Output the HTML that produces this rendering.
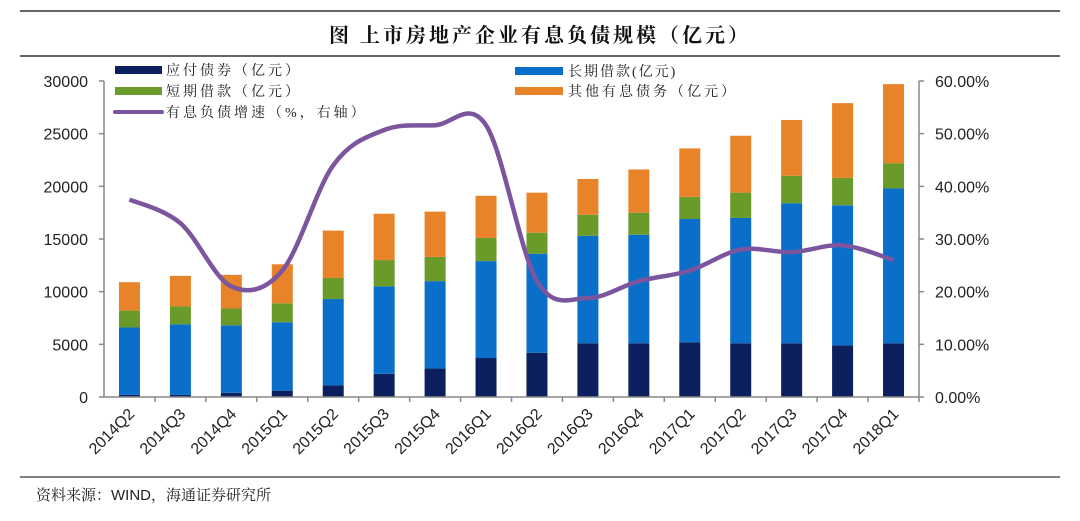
<!DOCTYPE html>
<html><head><meta charset="utf-8">
<style>
body{margin:0;background:#fff;width:1080px;height:516px;overflow:hidden;font-family:"Liberation Sans","Noto Serif CJK SC",sans-serif;}
svg text{font-family:"Liberation Sans","Noto Serif CJK SC",sans-serif;}
.cjk{font-family:"Liberation Serif","Noto Serif CJK SC",serif;}
</style></head>
<body>
<svg id="chart" width="1080" height="516" xmlns="http://www.w3.org/2000/svg">
<line x1="20" y1="11" x2="1060" y2="11" stroke="#333" stroke-width="1.5"/>
<line x1="20" y1="56" x2="1060" y2="56" stroke="#333" stroke-width="1.5"/>
<text class="cjk" x="540" y="42" text-anchor="middle" font-size="20" font-weight="bold" fill="#111" letter-spacing="3">图  上市房地产企业有息负债规模（亿元）</text>
<g id="legend">
<rect x="115" y="66" width="47" height="8" fill="#0c1f5e"/>
<text class="cjk" x="166" y="75" font-size="14" fill="#222" letter-spacing="3">应付债券（亿元）</text>
<rect x="115" y="87" width="47" height="8" fill="#6a9a2a"/>
<text class="cjk" x="166" y="96" font-size="14" fill="#222" letter-spacing="3">短期借款（亿元）</text>
<line x1="115" y1="112" x2="162" y2="112" stroke="#7b559e" stroke-width="4" stroke-linecap="round"/>
<text class="cjk" x="166" y="117" font-size="14" fill="#222" letter-spacing="3">有息负债增速（%，右轴）</text>
<rect x="515" y="67" width="48" height="8" fill="#0a6fc9"/>
<text class="cjk" x="568" y="76" font-size="14" fill="#222" letter-spacing="2">长期借款(亿元)</text>
<rect x="515" y="87" width="48" height="8" fill="#e8832a"/>
<text class="cjk" x="568" y="96" font-size="14" fill="#222" letter-spacing="3">其他有息债务（亿元）</text>
</g>
<g id="plot"></g>
<line x1="20" y1="477" x2="1060" y2="477" stroke="#333" stroke-width="1.2"/>
<text x="36" y="500" font-size="15" fill="#222"><tspan class="cjk">资料来源：</tspan><tspan font-family="Liberation Sans">WIND</tspan><tspan class="cjk">，海通证券研究所</tspan></text>
</svg>
<script>
const categories=["2014Q2","2014Q3","2014Q4","2015Q1","2015Q2","2015Q3","2015Q4","2016Q1","2016Q2","2016Q3","2016Q4","2017Q1","2017Q2","2017Q3","2017Q4","2018Q1"];
const payable=[200,200,400,600,1100,2200,2700,3700,4200,5100,5100,5200,5100,5100,4900,5100];
const longLoan=[6400,6700,6400,6500,8200,8300,8300,9200,9400,10200,10300,11700,11900,13300,13300,14700];
const shortLoan=[1600,1700,1600,1800,2000,2500,2300,2200,2000,2000,2100,2100,2400,2600,2600,2400];
const otherDebt=[2700,2900,3200,3700,4500,4400,4300,4000,3800,3400,4100,4600,5400,5300,7100,7500];
const growth=[37.5,33,21,24,44,50.7,51.6,51.6,22,18.8,22,24,28,27.5,28.8,26];
const leftTicks=[0,5000,10000,15000,20000,25000,30000];
const rightTicks=["0.00%","10.00%","20.00%","30.00%","40.00%","50.00%","60.00%"];
const NS="http://www.w3.org/2000/svg";
const g=document.getElementById('plot');
const X0=104,X1=919,Y0=397,Y1=81;
const band=(X1-X0)/categories.length;
const xc=i=>X0+band*(i+0.5);
const yL=v=>Y0-(v/30000)*(Y0-Y1);
const yR=p=>Y0-(p/60)*(Y0-Y1);
function el(t,a){const e=document.createElementNS(NS,t);for(const k in a)e.setAttribute(k,a[k]);g.appendChild(e);return e;}
let ax=el('line',{x1:X0,y1:Y1,x2:X0,y2:Y0,stroke:'#888','stroke-width':1.5});


ax=el('line',{x1:X1,y1:Y1,x2:X1,y2:Y0,stroke:'#888','stroke-width':1.5});


leftTicks.forEach((v,i)=>{
  const y=yL(v);
  const tk=el('line',{x1:X0-5,y1:y,x2:X0,y2:y,stroke:'#888','stroke-width':1.5});
  
  
  const t=el('text',{x:88,y:y+6,'text-anchor':'end','font-size':16,fill:'#222'});
  t.textContent=v;
  
  
  const tk2=el('line',{x1:X1,y1:y,x2:X1+5,y2:y,stroke:'#888','stroke-width':1.5});
  
  
  const t2=el('text',{x:935,y:y+6,'font-size':16,fill:'#222'});
  t2.textContent=rightTicks[i];
  
  
});
const bw=21;
categories.forEach((c,i)=>{
  let base=0;
  [[payable,'#0c1f5e','bar-payable'],[longLoan,'#0a6fc9','bar-long-loan'],[shortLoan,'#6a9a2a','bar-short-loan'],[otherDebt,'#e8832a','bar-other-debt']].forEach(([arr,col,nm])=>{
    const v=arr[i];
    const r=el('rect',{x:xc(i)-bw/2,y:yL(base+v),width:bw,height:yL(base)-yL(base+v),fill:col});
    
    
    base+=v;
  });
  const tk=el('line',{x1:X0+band*(i+1),y1:Y0,x2:X0+band*(i+1),y2:Y0+5,stroke:'#888','stroke-width':1.5});
  
  
  const lx=xc(i)+6,ly=Y0+18;
  const t=el('text',{x:lx,y:ly,'text-anchor':'end','font-size':16,fill:'#222',transform:`rotate(-45 ${lx} ${ly})`});
  t.textContent=c;
  
  
});
ax=el('line',{x1:X0,y1:Y0,x2:X1,y2:Y0,stroke:'#888','stroke-width':1.5});


const pts=growth.map((p,i)=>[xc(i),yR(p)]);
let d=`M${pts[0][0]},${pts[0][1]}`;
for(let i=0;i<pts.length-1;i++){
  const p0=pts[Math.max(0,i-1)],p1=pts[i],p2=pts[i+1],p3=pts[Math.min(pts.length-1,i+2)];
  const c1=[p1[0]+(p2[0]-p0[0])/6,p1[1]+(p2[1]-p0[1])/6];
  const c2=[p2[0]-(p3[0]-p1[0])/6,p2[1]-(p3[1]-p1[1])/6];
  d+=` C${c1[0]},${c1[1]} ${c2[0]},${c2[1]} ${p2[0]},${p2[1]}`;
}
const ln=el('path',{d:d,fill:'none',stroke:'#7b559e','stroke-width':4.5,'stroke-linejoin':'round'});


</script>
</body></html>
